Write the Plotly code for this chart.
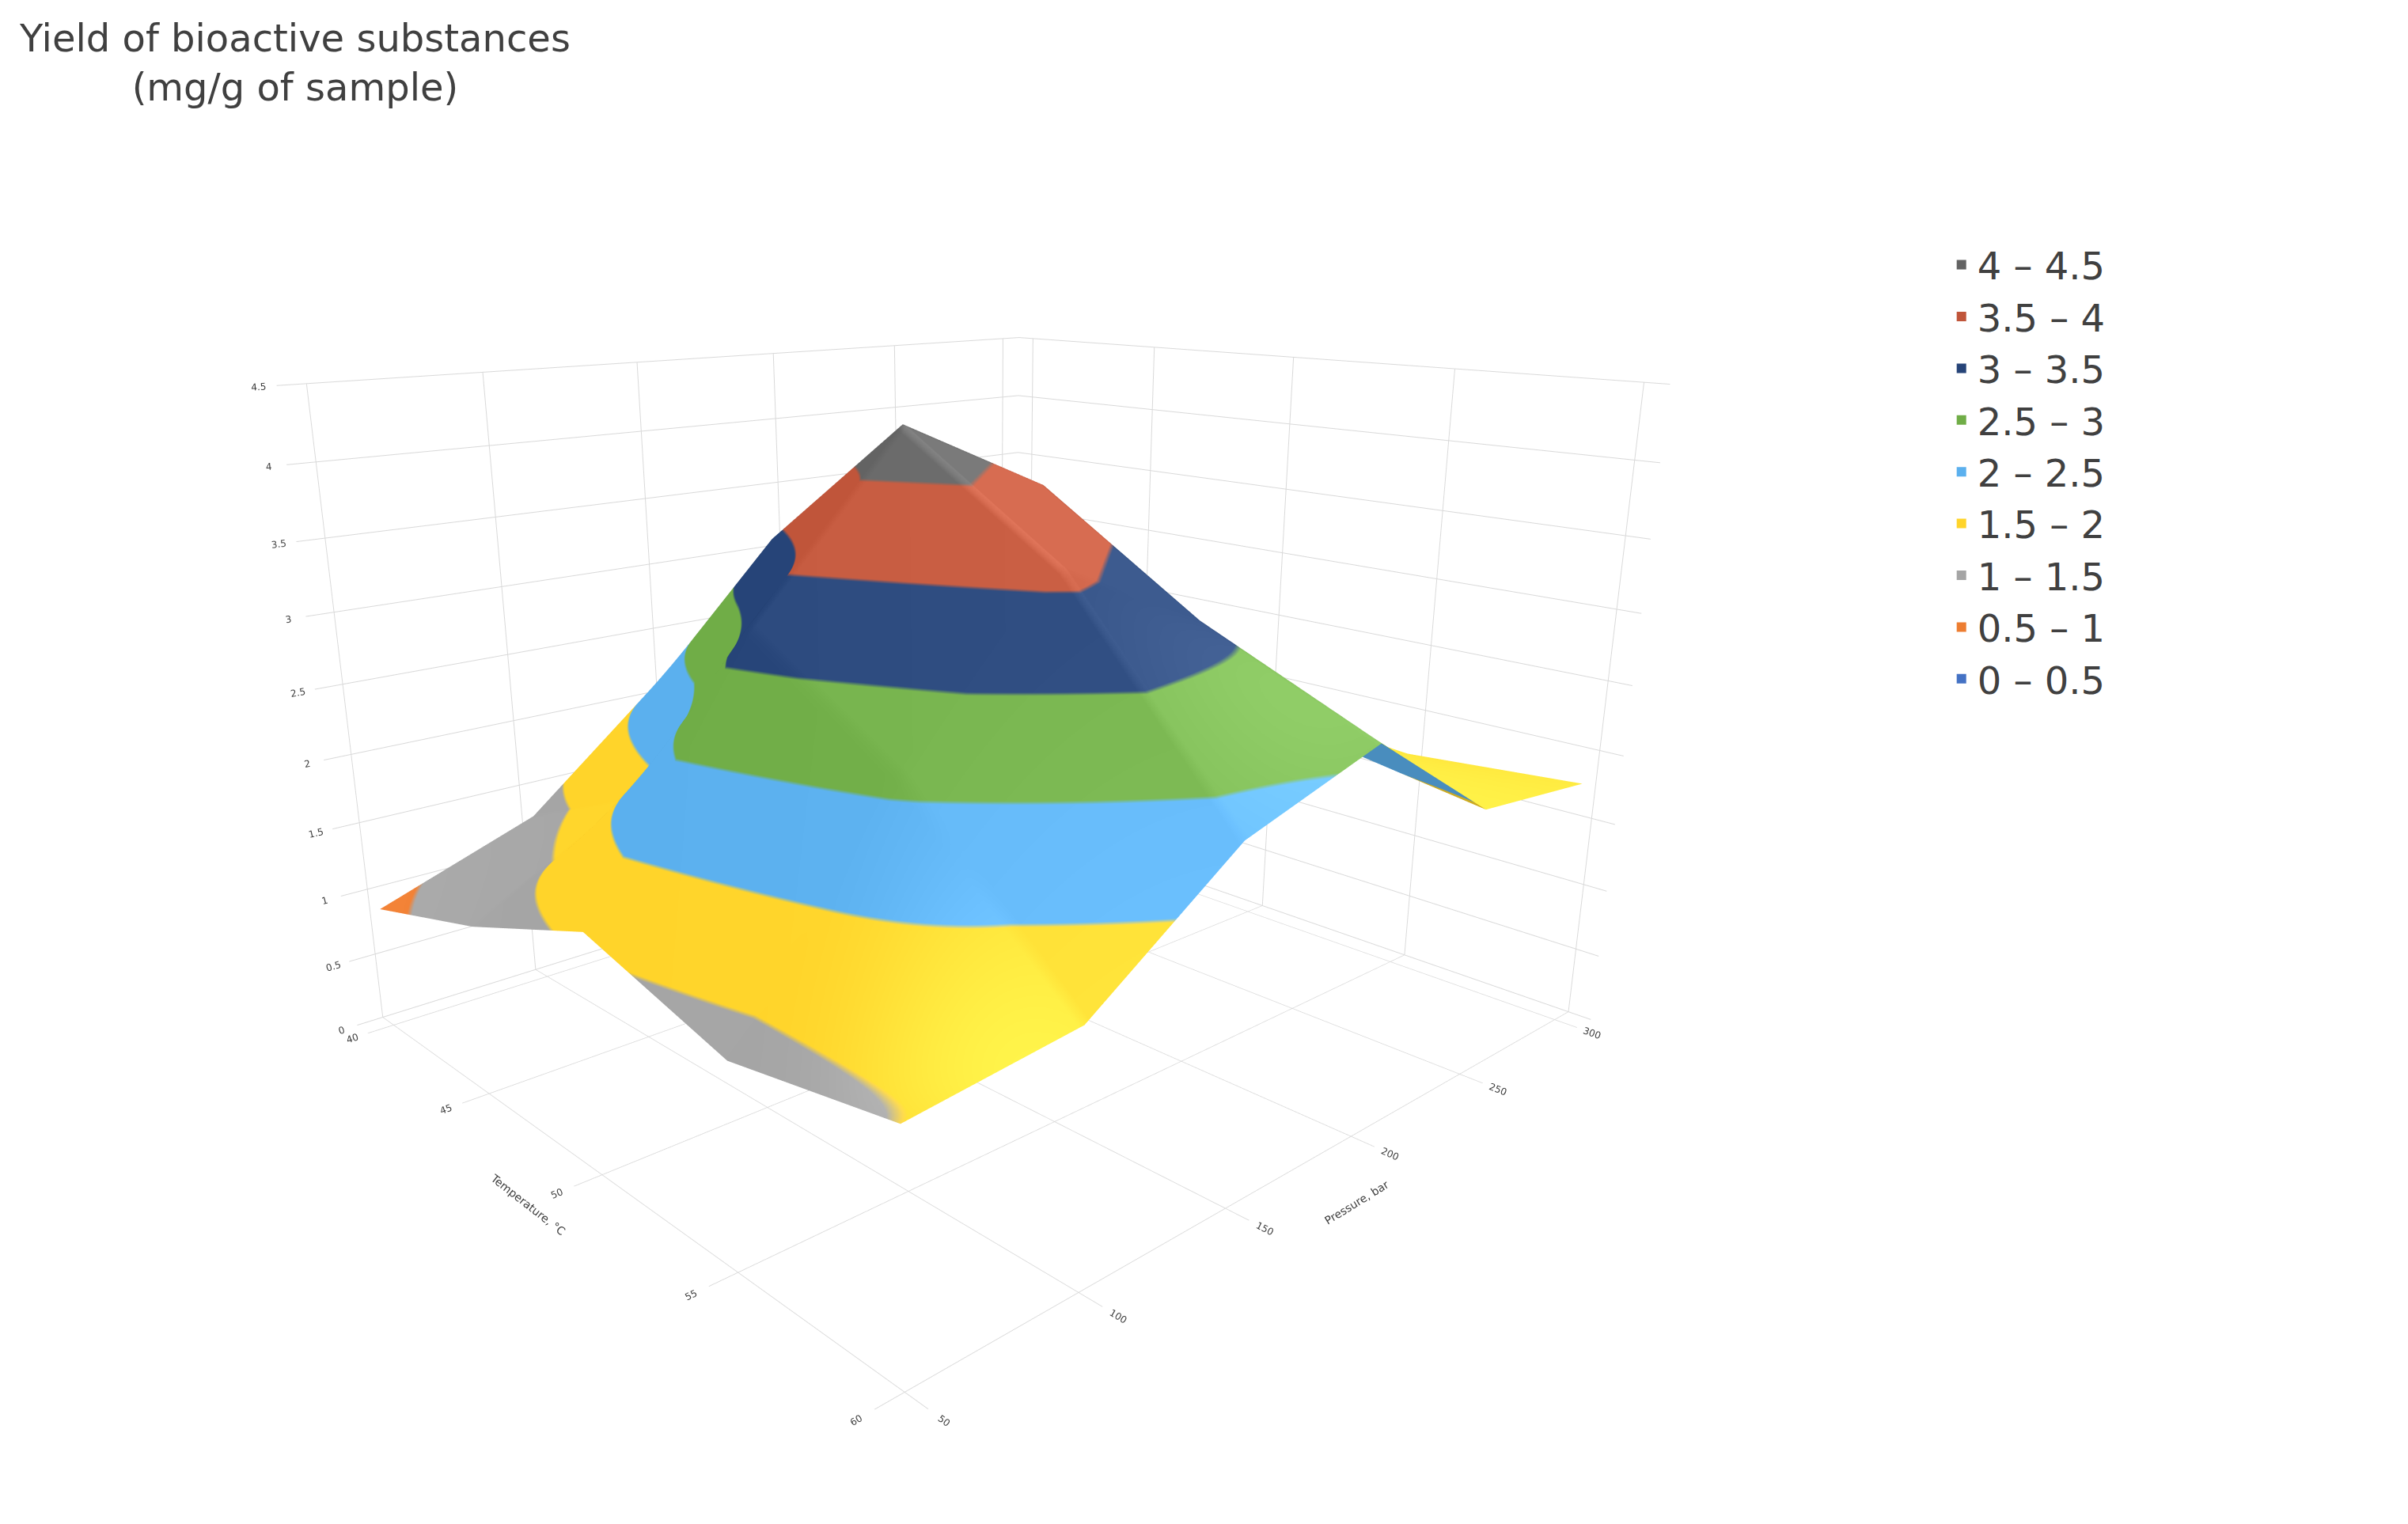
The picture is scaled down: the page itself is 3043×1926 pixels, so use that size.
import numpy as np
import plotly.graph_objects as go

temperature = [40, 45, 50, 55, 60]
pressure = [50, 100, 150, 200, 250, 300]
# yield rows = temperature, columns = pressure
yield_vals = [
    [0.9, 1.3, 2.2, 2.8, 2.8, 2.6],
    [1.2, 1.8, 3.4, 3.4, 2.9, 2.3],
    [1.6, 3.2, 4.3, 3.8, 2.4, 1.8],
    [1.3, 2.6, 3.6, 3.1, 2.1, 1.7],
    [1.5, 1.6, 2.3, 2.6, 1.9, 1.8],
]
band_labels = ["0 – 0.5", "0.5 – 1", "1 – 1.5", "1.5 – 2", "2 – 2.5",
               "2.5 – 3", "3 – 3.5", "3.5 – 4", "4 – 4.5"]
band_colors = ["#4472C4", "#ED7D31", "#A5A5A5", "#FFD42A", "#5BB0EE",
               "#70AD47", "#264478", "#C0553A", "#636363"]

n = len(band_colors)
scale = []
for i, c in enumerate(band_colors):
    scale.append([i / n, c])
    scale.append([(i + 1) / n, c])

z = np.array(yield_vals).T  # rows = pressure (y), cols = temperature (x)

fig = go.Figure()
fig.add_surface(
    x=temperature, y=pressure, z=z,
    colorscale=scale, cmin=0, cmax=4.5, showscale=False,
    lighting=dict(ambient=0.8, diffuse=0.5, specular=0.1),
)
for lab, col in reversed(list(zip(band_labels, band_colors))):
    fig.add_scatter3d(x=[None], y=[None], z=[None], mode="markers", name=lab,
                      marker=dict(symbol="square", size=14, color=col))

tick = dict(size=12, color="#404040")
ax = dict(showbackground=False, gridcolor="#D9D9D9", tickfont=tick,
          zeroline=False, showspikes=False)
fig.update_layout(
    width=3043, height=1926,
    paper_bgcolor="white",
    font=dict(family="DejaVu Sans", color="#404040"),
    margin=dict(l=0, r=320, t=0, b=0),
    showlegend=True,
    legend=dict(x=0.9, y=0.85, yanchor="top", font=dict(size=48), itemsizing="constant",
                tracegroupgap=40),
    scene=dict(
        domain=dict(x=[0.0, 0.9], y=[0.0, 0.95]),
        xaxis=dict(ax, title=dict(text="Temperature, °C", font=dict(size=14)),
                   tickvals=temperature),
        yaxis=dict(ax, title=dict(text="Pressure, bar", font=dict(size=14)),
                   tickvals=pressure),
        zaxis=dict(ax, title=dict(text=""), range=[0, 4.5], dtick=0.5),
        aspectmode="manual", aspectratio=dict(x=1, y=1.1, z=0.75),
        camera=dict(eye=dict(x=1.4, y=-1.3, z=0.55), center=dict(x=0, y=0, z=-0.1)),
    ),
)
fig.add_annotation(text="Yield of bioactive substances<br>(mg/g of sample)",
                   x=0.005, y=0.995, xref="paper", yref="paper", xanchor="left", yanchor="top",
                   showarrow=False, font=dict(size=48, color="#404040"), align="center")
fig.write_html("out.html")
